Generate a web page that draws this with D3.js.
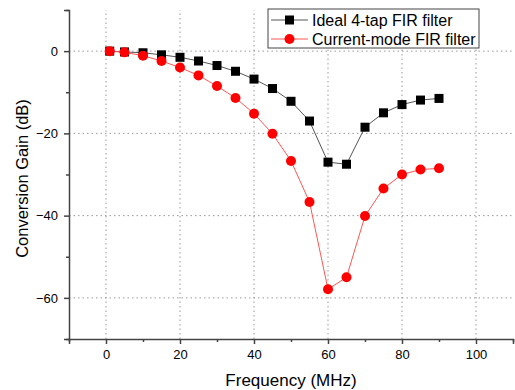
<!DOCTYPE html>
<html>
<head>
<meta charset="utf-8">
<script src="https://cdn.jsdelivr.net/npm/d3@7"></script>
<style>
  body { margin: 0; background: #fff; }
  text { font-family: Arial, "Liberation Sans", sans-serif; }
</style>
</head>
<body>
<script>
// data
const freq = [1, 5, 10, 15, 20, 25, 30, 35, 40, 45, 50, 55, 60, 65, 70, 75, 80, 85, 90];
const ideal = [0, -0.2, -0.4, -0.9, -1.5, -2.4, -3.5, -4.9, -6.8, -9.1, -12.2, -17, -27, -27.5, -18.5, -15, -13, -11.9, -11.5];
const current = [0, -0.3, -1.1, -2.4, -4, -5.9, -8.5, -11.4, -15.2, -20.1, -26.7, -36.7, -57.9, -55, -40.1, -33.4, -30, -28.8, -28.5];
const xTicks = [0, 20, 40, 60, 80, 100];
const yTicks = [0, -20, -40, -60];
const seriesNames = ['Ideal 4-tap FIR filter', 'Current-mode FIR filter'];

const width = 515, height = 390;
const margin = { top: 10, right: 2, bottom: 51, left: 69 };

const svg = d3.select('body').append('svg')
  .attr('width', width)
  .attr('height', height);

const x = d3.scaleLinear().domain([-10, 110]).range([margin.left, width - margin.right]);
const y = d3.scaleLinear().domain([-70, 10]).range([height - margin.bottom, margin.top]);

// grid
svg.append('g').selectAll('line').data(xTicks).join('line')
  .attr('x1', d => x(d)).attr('x2', d => x(d))
  .attr('y1', y(-70)).attr('y2', y(10))
  .attr('stroke', '#999').attr('stroke-width', 1).attr('stroke-dasharray', '1.5,3');
svg.append('g').selectAll('line').data(yTicks).join('line')
  .attr('x1', x(-10)).attr('x2', x(110))
  .attr('y1', d => y(d)).attr('y2', d => y(d))
  .attr('stroke', '#999').attr('stroke-width', 1).attr('stroke-dasharray', '1.5,3');

// axes
svg.append('g')
  .attr('transform', `translate(0,${y(-70)})`)
  .call(d3.axisBottom(x).tickValues(xTicks).tickSize(5).tickPadding(6));
svg.append('g')
  .attr('transform', `translate(0,${y(-70)})`)
  .call(d3.axisBottom(x).tickValues([-10, 10, 30, 50, 70, 90, 110]).tickSize(3).tickFormat(''))
  .select('.domain').remove();
svg.append('g')
  .attr('transform', `translate(${x(-10)},0)`)
  .call(d3.axisLeft(y).tickValues(yTicks).tickSize(5).tickPadding(6));
svg.append('g')
  .attr('transform', `translate(${x(-10)},0)`)
  .call(d3.axisLeft(y).tickValues([10, -10, -30, -50, -70]).tickSize(3).tickFormat(''))
  .select('.domain').remove();

svg.selectAll('.domain').attr('stroke', '#444').attr('stroke-width', 1.5);
svg.selectAll('.tick line').attr('stroke', '#444').attr('stroke-width', 1.5);
svg.selectAll('.tick text').attr('fill', '#000').style('font-size', '13px');

// axis titles
svg.append('text')
  .attr('x', x(50)).attr('y', 386)
  .attr('text-anchor', 'middle')
  .style('font-size', '17px')
  .text('Frequency (MHz)');
svg.append('text')
  .attr('transform', `translate(28,${(y(-70) + y(10)) / 2 + 4}) rotate(-90)`)
  .attr('text-anchor', 'middle')
  .style('font-size', '16.5px')
  .text('Conversion Gain (dB)');

const line = d3.line().x(d => x(d[0])).y(d => y(d[1]));
const idealPts = freq.map((f, i) => [f, ideal[i]]);
const currentPts = freq.map((f, i) => [f, current[i]]);

// lines
svg.append('path').datum(idealPts)
  .attr('fill', 'none').attr('stroke', '#555').attr('stroke-width', 1)
  .attr('d', line);
svg.append('path').datum(currentPts)
  .attr('fill', 'none').attr('stroke', '#ff5555').attr('stroke-width', 1)
  .attr('d', line);

// markers
svg.append('g').selectAll('rect').data(idealPts).join('rect')
  .attr('x', d => x(d[0]) - 4.5).attr('y', d => y(d[1]) - 4.5)
  .attr('width', 9).attr('height', 9)
  .attr('fill', '#000');
svg.append('g').selectAll('circle').data(currentPts).join('circle')
  .attr('cx', d => x(d[0])).attr('cy', d => y(d[1]))
  .attr('r', 5)
  .attr('fill', '#ff0000');

// legend
const lg = svg.append('g').attr('transform', 'translate(268,9)');
lg.append('rect')
  .attr('width', 211).attr('height', 39)
  .attr('fill', '#fff').attr('stroke', '#444').attr('stroke-width', 1);
seriesNames.forEach((name, i) => {
  const cy = 11 + i * 19;
  lg.append('line')
    .attr('x1', 3).attr('x2', 40).attr('y1', cy).attr('y2', cy)
    .attr('stroke', i === 0 ? '#555' : '#ff5555').attr('stroke-width', 1);
  if (i === 0) {
    lg.append('rect').attr('x', 17).attr('y', cy - 4.5).attr('width', 9).attr('height', 9).attr('fill', '#000');
  } else {
    lg.append('circle').attr('cx', 21.5).attr('cy', cy).attr('r', 5).attr('fill', '#ff0000');
  }
  lg.append('text')
    .attr('x', 44).attr('y', cy + 6)
    .style('font-size', '16px')
    .text(name);
});
</script>
</body>
</html>
